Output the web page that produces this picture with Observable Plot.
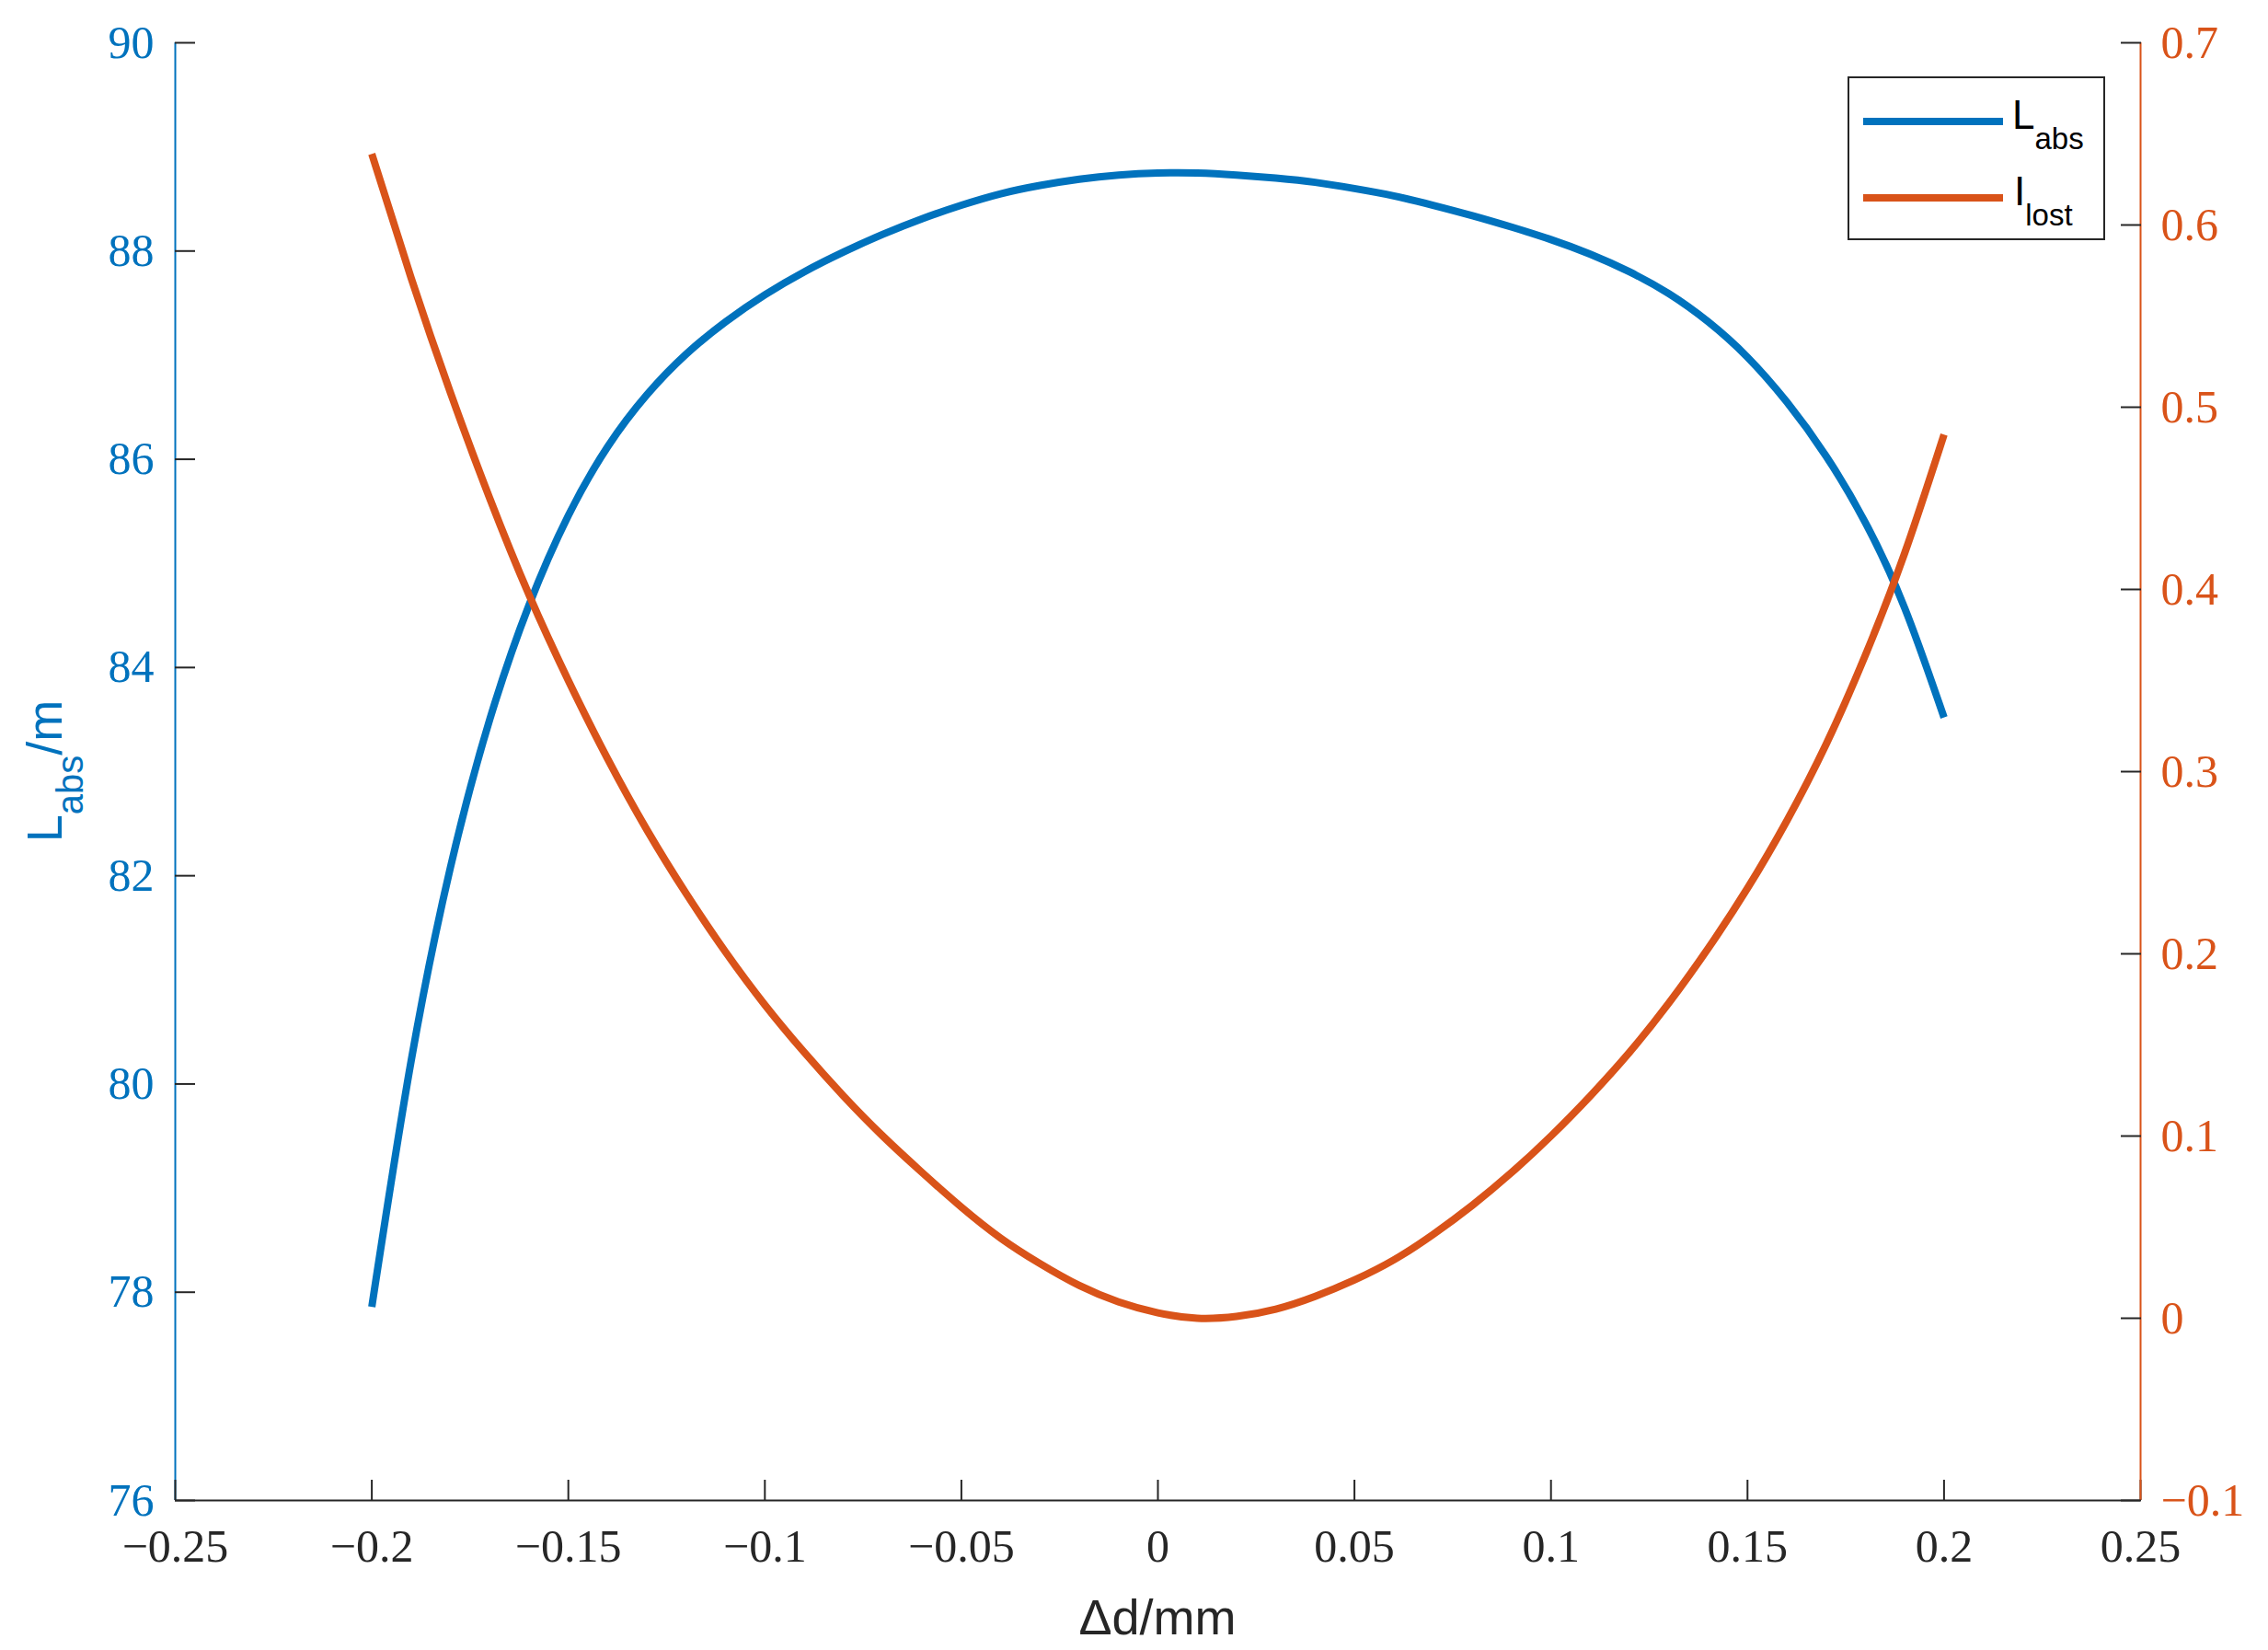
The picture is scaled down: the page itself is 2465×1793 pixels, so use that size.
<!DOCTYPE html>
<html>
<head>
<meta charset="utf-8">
<script src="https://cdn.jsdelivr.net/npm/d3@7"></script>
<script src="https://cdn.jsdelivr.net/npm/@observablehq/plot@0.6"></script>
<style>
  html, body { margin: 0; padding: 0; background: #ffffff; }
  #chart { position: relative; width: 2465px; height: 1793px; background: #ffffff; }
  #chart svg { position: absolute; left: 0; top: 0; max-width: none; background: transparent; }
</style>
</head>
<body>
<div id="chart"></div>
<script>
// ---------------- data ----------------
const dX = [-0.20, -0.19, -0.18, -0.17, -0.16, -0.15, -0.14, -0.13, -0.12, -0.11,
            -0.10, -0.09, -0.08, -0.07, -0.06, -0.05, -0.04, -0.03, -0.02, -0.01,
             0.00,  0.01,  0.02,  0.03,  0.04,  0.05,  0.06,  0.07,  0.08,  0.09,
             0.10,  0.11,  0.12,  0.13,  0.14,  0.15,  0.16,  0.17,  0.18,  0.19, 0.20];

const Labs = [77.86, 80.22, 82.08, 83.50, 84.60, 85.46, 86.12, 86.62, 87.01, 87.32,
              87.58, 87.80, 87.99, 88.16, 88.31, 88.44, 88.55, 88.63, 88.69, 88.73,
              88.75, 88.75, 88.73, 88.70, 88.66, 88.60, 88.53, 88.44, 88.34, 88.23,
              88.11, 87.97, 87.80, 87.59, 87.32, 86.98, 86.55, 86.03, 85.39, 84.57, 83.52];

const Ilost = [0.639, 0.571, 0.508, 0.450, 0.397, 0.350, 0.307, 0.268, 0.233, 0.201,
               0.172, 0.146, 0.122, 0.100, 0.080, 0.061, 0.044, 0.030, 0.018, 0.009,
               0.003, 0.000, 0.001, 0.005, 0.012, 0.021, 0.032, 0.046, 0.062, 0.080,
               0.100, 0.122, 0.146, 0.173, 0.203, 0.236, 0.273, 0.315, 0.364, 0.420, 0.485];

const xTicks = [-0.25, -0.2, -0.15, -0.1, -0.05, 0, 0.05, 0.1, 0.15, 0.2, 0.25];
const xTickLabels = ["\u22120.25", "\u22120.2", "\u22120.15", "\u22120.1", "\u22120.05", "0", "0.05", "0.1", "0.15", "0.2", "0.25"];
const yLeftTicks = [76, 78, 80, 82, 84, 86, 88, 90];
const yLeftTickLabels = ["76", "78", "80", "82", "84", "86", "88", "90"];
const yRightTicks = [-0.1, 0, 0.1, 0.2, 0.3, 0.4, 0.5, 0.6, 0.7];
const yRightTickLabels = ["\u22120.1", "0", "0.1", "0.2", "0.3", "0.4", "0.5", "0.6", "0.7"];

const xLabel = "\u0394d/mm";
const yLabelMain = "L", yLabelSub = "abs", yLabelTail = "/m";
const legendMain = ["L", "I"];
const legendSub = ["abs", "lost"];

// ---------------- styling ----------------
const W = 2465, H = 1793;
const mL = 190, mR = 139, mT = 46, mB = 163;
const BLUE = "#0072BD", ORANGE = "#D95319", DARK = "#262626";
const SERIF = "'Liberation Serif', 'Times New Roman', serif";
const SANS = "'Liberation Sans', Arial, Helvetica, sans-serif";

const fmt = (ticks, labels) => d => labels[ticks.indexOf(d)];

const blueData = dX.map((d, i) => ({d, v: Labs[i]}));
const orangeData = dX.map((d, i) => ({d, v: Ilost[i]}));

const common = {
  width: W, height: H,
  marginLeft: mL, marginRight: mR, marginTop: mT, marginBottom: mB,
  style: {background: "transparent", overflow: "visible"}
};

const plotLeft = Plot.plot({
  ...common,
  x: {domain: [-0.25, 0.25], axis: null},
  y: {domain: [76, 90], axis: null},
  marks: [
    Plot.ruleY([76], {stroke: DARK, strokeWidth: 2}),
    Plot.ruleX([-0.25], {stroke: BLUE, strokeWidth: 2}),
    Plot.axisX(xTicks, {anchor: "bottom", tickSize: -22, fill: "none", stroke: DARK, strokeWidth: 2, label: null}),
    Plot.axisX(xTicks, {anchor: "bottom", tickSize: 0, tickPadding: 31, tickFormat: fmt(xTicks, xTickLabels),
      fill: DARK, fontSize: 50, fontFamily: SERIF, label: null}),
    Plot.axisY(yLeftTicks, {anchor: "left", tickSize: -22, fill: "none", stroke: DARK, strokeWidth: 2, label: null}),
    Plot.axisY(yLeftTicks, {anchor: "left", tickSize: 0, tickPadding: 23, tickFormat: fmt(yLeftTicks, yLeftTickLabels),
      fill: BLUE, fontSize: 50, fontFamily: SERIF, label: null}),
    Plot.line(blueData, {x: "d", y: "v", stroke: BLUE, strokeWidth: 8, curve: "natural", strokeLinecap: "butt"})
  ]
});

const plotRight = Plot.plot({
  ...common,
  x: {domain: [-0.25, 0.25], axis: null},
  y: {domain: [-0.1, 0.7], axis: null},
  marks: [
    Plot.ruleX([0.25], {stroke: ORANGE, strokeWidth: 2}),
    Plot.axisY(yRightTicks, {anchor: "right", tickSize: -22, fill: "none", stroke: DARK, strokeWidth: 2, label: null}),
    Plot.axisY(yRightTicks, {anchor: "right", tickSize: 0, tickPadding: 22, tickFormat: fmt(yRightTicks, yRightTickLabels),
      fill: ORANGE, fontSize: 50, fontFamily: SERIF, label: null}),
    Plot.line(orangeData, {x: "d", y: "v", stroke: ORANGE, strokeWidth: 8, curve: "natural", strokeLinecap: "butt"})
  ]
});

const chart = document.getElementById("chart");
chart.appendChild(plotLeft);
chart.appendChild(plotRight);

// ---------------- axis titles ----------------
const s1 = d3.select(plotLeft);
s1.append("text")
  .attr("x", (mL + (W - mR)) / 2).attr("y", 1776)
  .attr("text-anchor", "middle")
  .attr("font-family", SANS).attr("font-size", 54).attr("fill", DARK)
  .text(xLabel);

const yl = s1.append("text")
  .attr("transform", `translate(67, ${(mT + (H - mB)) / 2}) rotate(-90)`)
  .attr("text-anchor", "middle")
  .attr("font-family", SANS).attr("font-size", 54).attr("fill", BLUE);
yl.append("tspan").text(yLabelMain);
yl.append("tspan").attr("dy", 23).attr("font-size", 40).text(yLabelSub);
yl.append("tspan").attr("dy", -23).text(yLabelTail);

// ---------------- legend ----------------
const s2 = d3.select(plotRight);
const lg = s2.append("g");
lg.append("rect").attr("x", 2009).attr("y", 84).attr("width", 278).attr("height", 176)
  .attr("fill", "#ffffff").attr("stroke", DARK).attr("stroke-width", 2);
const legendColors = [BLUE, ORANGE];
const legendY = [132, 215];
legendMain.forEach((m, i) => {
  lg.append("line").attr("x1", 2025).attr("x2", 2177).attr("y1", legendY[i]).attr("y2", legendY[i])
    .attr("stroke", legendColors[i]).attr("stroke-width", 8);
  const t = lg.append("text").attr("x", i === 0 ? 2187 : 2189).attr("y", legendY[i] + 8)
    .attr("text-anchor", "start")
    .attr("font-family", SANS).attr("font-size", 44).attr("fill", "#000000");
  t.append("tspan").text(m);
  t.append("tspan").attr("dy", 22).attr("font-size", 33).text(legendSub[i]);
});
</script>
</body>
</html>
